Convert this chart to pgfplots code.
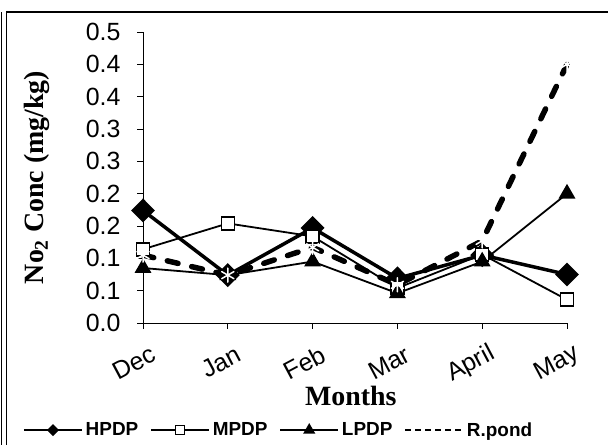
\documentclass[border=0pt]{standalone}
\usepackage{pgfplots}
\pgfplotsset{compat=1.18}
\usepackage{fontspec}
\setmainfont{Liberation Serif}
\newfontfamily\arial{Liberation Sans}
\begin{document}
\begin{tikzpicture}[x=1bp,y=1bp]
\useasboundingbox (0,0) rectangle (608,445);
\clip (0,0) rectangle (608,445);
\fill[white] (0,0) rectangle (608,445);
% frame
\draw[line width=0.9bp] (1.7,0) -- (1.7,433);
\draw[line width=1.8bp] (6.5,-5) -- (6.5,433) -- (620,433);
\begin{axis}[
  scale only axis, width=424bp, height=291bp,
  at={(143bp,122bp)}, anchor=south west,
  xmin=0, xmax=5, ymin=0, ymax=0.45,
  axis lines*=left,
  axis line style={line width=0.8bp},
  tick style={line width=0.8bp, black},
  tick align=outside, major tick length=6bp,
  xtick={0,1,2,3,4,5},
  xticklabels={Dec,Jan,Feb,Mar,April,May},
  ytick={0,0.05,0.1,0.15,0.2,0.25,0.3,0.35,0.4,0.45},
  yticklabels={0.0,0.1,0.1,0.2,0.2,0.3,0.3,0.4,0.4,0.5},
  ticklabel style={font=\arial\fontsize{25}{25}\selectfont},
  yticklabel style={anchor=east, xshift=-13bp},
  xticklabel style={rotate=28, anchor=east, yshift=-26bp, xshift=2bp},
  xlabel={Months},
  xlabel style={font=\bfseries\fontsize{28}{28}\selectfont, at={(axis description cs:0.49,-0.282)}, anchor=base},
  ylabel={No\textsubscript{2} Conc (mg/kg)},
  ylabel style={font=\bfseries\fontsize{28}{28}\selectfont, at={(axis description cs:-0.25,0.5)}, anchor=center, rotate=0},
  clip=false,
  legend columns=4,
  legend style={draw=none, fill=none, at={(axis description cs:-0.29,-0.368)}, anchor=west,
    font=\arial\bfseries\fontsize{19}{19}\selectfont,
    /tikz/every even column/.append style={column sep=10bp},
    /tikz/every odd column/.append style={column sep=1bp}},
]
\addplot[black, line width=3.5bp, mark=diamond*, mark size=9.5bp,
  mark options={solid, fill=black, xscale=1.33},
  legend image code/.code={\draw[black, line width=1.5bp, mark=diamond*, mark size=5bp, mark options={fill=black, xscale=1.33}, mark repeat=2, mark phase=2] plot coordinates {(0bp,0bp) (29bp,0bp) (58bp,0bp)};}]
coordinates {(0,0.174) (1,0.074) (2,0.147) (3,0.069) (4,0.105) (5,0.075)};
\addlegendentry{HPDP}
\addplot[black, line width=1.8bp, mark=square*, mark size=6.5bp,
  mark options={solid, fill=white, line width=1.5bp},
  legend image code/.code={\draw[black, line width=1.5bp, mark=square*, mark size=4.5bp, mark options={fill=white, line width=1.2bp}, mark repeat=2, mark phase=2] plot coordinates {(0bp,0bp) (29bp,0bp) (58bp,0bp)};}]
coordinates {(0,0.114) (1,0.154) (2,0.134) (3,0.054) (4,0.106) (5,0.036)};
\addlegendentry{MPDP}
\addplot[black, line width=1.8bp, mark=triangle*, mark size=8bp,
  mark options={solid, fill=black},
  legend image code/.code={\draw[black, line width=1.5bp, mark=triangle*, mark size=5.5bp, mark options={fill=black}, mark repeat=2, mark phase=2] plot coordinates {(0bp,0bp) (29bp,0bp) (58bp,0bp)};}]
coordinates {(0,0.085) (1,0.074) (2,0.095) (3,0.046) (4,0.095) (5,0.200)};
\addlegendentry{LPDP}
\addplot[black, line width=5.5bp, line cap=round, dash pattern=on 11bp off 14bp,
  mark=asterisk, mark size=7bp, mark options={solid, white, line width=1.5bp},
  legend image code/.code={\draw[black, line width=1.5bp, line cap=butt, dash pattern=on 6bp off 4bp] (0bp,0bp) -- (58bp,0bp);}]
coordinates {(0,0.105) (1,0.074) (2,0.117) (3,0.059) (4,0.127) (5,0.400)};
\addlegendentry{R.pond}
\end{axis}
\end{tikzpicture}
\end{document}
